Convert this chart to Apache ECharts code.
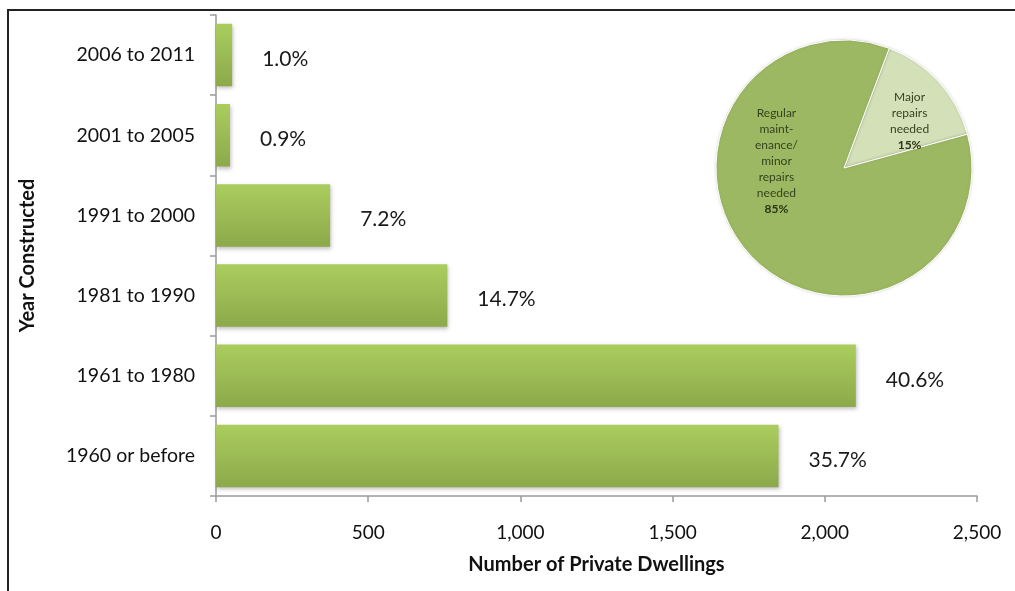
<!DOCTYPE html>
<html>
<head>
<meta charset="utf-8">
<script src="https://cdn.jsdelivr.net/npm/echarts@6/dist/echarts.min.js"></script>
<style>
html,body{margin:0;padding:0;background:#fff;}
#frame{position:absolute;left:7px;top:9px;right:0;bottom:0;border-left:2px solid #222;border-top:2px solid #222;}
#chart{position:absolute;left:0;top:0;width:1015px;height:591px;}
</style>
</head>
<body>
<div id="frame"></div>
<div id="chart"></div>
<script>
const categories = ['1960 or before', '1961 to 1980', '1981 to 1990', '1991 to 2000', '2001 to 2005', '2006 to 2011'];
const dwellings = [1848, 2102, 760, 375, 46, 53];
const shareLabels = ['35.7%', '40.6%', '14.7%', '7.2%', '0.9%', '1.0%'];
const xTicks = [0, 500, 1000, 1500, 2000, 2500];
const pieNames = ['Major repairs needed', 'Regular maintenance/minor repairs needed'];
const pieValues = [15, 85];
const pieLabelText = ['Major\nrepairs\nneeded', 'Regular\nmaint-\nenance/\nminor\nrepairs\nneeded'];

const FONT = 'Lato, "Open Sans", sans-serif';
const chart = echarts.init(document.getElementById('chart'), null, {renderer: 'canvas'});

const barGradient = new echarts.graphic.LinearGradient(0, 0, 0, 1, [
  {offset: 0, color: '#abcd5e'},
  {offset: 1, color: '#8ca94b'}
]);

chart.setOption({
  animation: false,
  backgroundColor: 'transparent',
  grid: {left: 216, right: 38, top: 15, bottom: 95, containLabel: false},
  xAxis: {
    type: 'value',
    min: 0, max: 2500, interval: 500,
    name: 'Number of Private Dwellings',
    nameLocation: 'middle',
    nameGap: 59,
    nameTextStyle: {fontFamily: FONT, fontWeight: 'bold', fontSize: 20, color: '#111'},
    axisLine: {show: true, lineStyle: {color: '#9a9a9a', width: 1.5}},
    axisTick: {show: true, length: 6, lineStyle: {color: '#9a9a9a', width: 1.5}},
    splitLine: {show: false},
    axisLabel: {
      margin: 27, fontFamily: FONT, fontSize: 19, color: '#111',
      formatter: v => xTicks.includes(v) ? v.toLocaleString('en-US') : ''
    }
  },
  yAxis: {
    type: 'category',
    data: categories,
    name: 'Year Constructed',
    nameLocation: 'middle',
    nameGap: 178,
    nameRotate: 90,
    nameTextStyle: {fontFamily: FONT, fontWeight: 'bold', fontSize: 20, color: '#111'},
    axisLine: {show: true, lineStyle: {color: '#9a9a9a', width: 1.5}},
    axisTick: {show: true, length: 6, lineStyle: {color: '#9a9a9a', width: 1.5}},
    axisLabel: {margin: 21, fontFamily: FONT, fontSize: 19.5, color: '#111'}
  },
  series: [
    {
      type: 'bar',
      data: dwellings,
      barCategoryGap: '22%',
      itemStyle: {
        color: barGradient,
        shadowColor: 'rgba(0,0,0,0.25)', shadowBlur: 4, shadowOffsetX: 1, shadowOffsetY: 2
      },
      label: {
        show: true, position: 'right', distance: 30, offset: [0, 4],
        fontFamily: FONT, fontSize: 21, color: '#1a1a1a',
        formatter: p => shareLabels[p.dataIndex]
      }
    },
    {
      type: 'pie',
      center: [844, 168],
      radius: [0, 128],
      startAngle: 69.3,
      clockwise: true,
      silent: true,
      itemStyle: {
        borderColor: '#ffffff', borderWidth: 1,
        shadowColor: 'rgba(0,0,0,0.15)', shadowBlur: 3
      },
      labelLine: {show: false},
      data: [
        {
          name: pieNames[0], value: pieValues[0],
          itemStyle: {color: '#d3e0b8'},
          label: {offset: [16, -2]}
        },
        {
          name: pieNames[1], value: pieValues[1],
          itemStyle: {color: '#9db862'},
          label: {offset: [-18, -52]}
        }
      ],
      label: {
        show: true, position: 'inside',
        fontFamily: FONT, fontSize: 12, color: '#34431c', lineHeight: 16, align: 'center',
        formatter: p => pieLabelText[p.dataIndex] + '\n{b|' + p.value + '%}',
        rich: {b: {fontFamily: FONT, fontSize: 12, fontWeight: 'bold', color: '#2a3615', lineHeight: 16}}
      }
    }
  ]
});
</script>
</body>
</html>
